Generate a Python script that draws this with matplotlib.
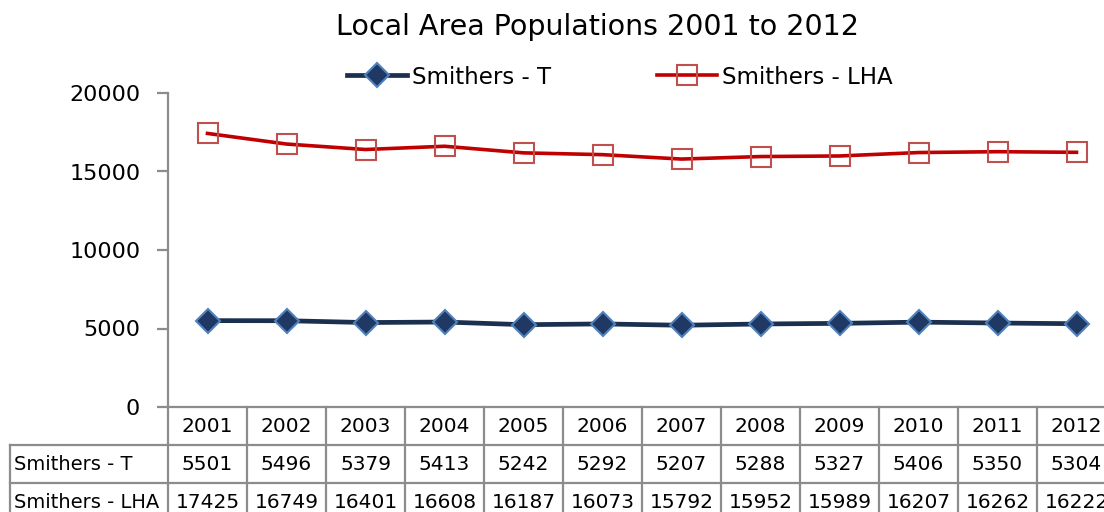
import matplotlib
matplotlib.use("Agg")
import matplotlib.pyplot as plt
from matplotlib.lines import Line2D
import matplotlib.transforms as mtransforms

years = ["2001", "2002", "2003", "2004", "2005", "2006",
         "2007", "2008", "2009", "2010", "2011", "2012"]
smithers_t = [5501, 5496, 5379, 5413, 5242, 5292, 5207, 5288, 5327, 5406, 5350, 5304]
smithers_lha = [17425, 16749, 16401, 16608, 16187, 16073, 15792, 15952, 15989, 16207, 16262, 16222]
series_names = ["Smithers - T", "Smithers - LHA"]
yticks = [0, 5000, 10000, 15000, 20000]

plt.rcParams["font.family"] = ["DejaVu Sans"]

W, H = 1104, 512
fig = plt.figure(figsize=(W / 100, H / 100), dpi=100)

# plot area: 12 category slots of 79 px starting at x=168 (runs past the right edge)
left_px, right_px = 168, 168 + 79 * 12
top_px, bottom_px = 93, 407
ax = fig.add_axes([left_px / W, 1 - bottom_px / H,
                   (right_px - left_px) / W, (bottom_px - top_px) / H])

x = list(range(len(years)))
navy = "#1B2F4F"
red = "#C00000"
grid_grey = "#8C8C8C"

t_style = dict(color=navy, lw=3.4, marker="D", ms=12,
               mfc="#1F3864", mec="#4F81BD", mew=1.5)
lha_style = dict(color=red, lw=2.6, marker="s", ms=14,
                 mfc="none", mec="#C0504D", mew=1.5)

ax.plot(x, smithers_t, zorder=3, **t_style)
ax.plot(x, smithers_lha, zorder=3, **lha_style)

ax.set_xlim(-0.5, len(years) - 0.5)
ax.set_ylim(0, 20000)
ax.set_yticks(yticks)
ax.set_yticklabels([str(v) for v in yticks], fontsize=16)
ax.set_xticks([])
for s in ["top", "right"]:
    ax.spines[s].set_visible(False)
for s in ["left", "bottom"]:
    ax.spines[s].set_color(grid_grey)
    ax.spines[s].set_linewidth(1.6)
ax.tick_params(axis="y", length=8, width=1.6, color=grid_grey, pad=12)

# data table beneath the axis
trans = mtransforms.blended_transform_factory(ax.transData, fig.transFigure)
row_h = 38 / H
y_axis = 1 - bottom_px / H
row_tops = [y_axis, y_axis - row_h, y_axis - 2 * row_h, y_axis - 3 * row_h]
lab_left = 10 / W

# vertical cell borders
for i in range(len(years) + 1):
    ax.add_line(Line2D([i - 0.5, i - 0.5], [row_tops[0], row_tops[3]],
                       transform=trans, color=grid_grey, lw=1.6, clip_on=False))
# horizontal borders of the value rows, extended under the row labels
for yy in row_tops[1:]:
    fig.add_artist(Line2D([lab_left, 1.0], [yy, yy], transform=fig.transFigure,
                          color=grid_grey, lw=1.6))
fig.add_artist(Line2D([lab_left, lab_left], [row_tops[1], row_tops[3]],
                      transform=fig.transFigure, color=grid_grey, lw=1.6))

cell_fs = 14.5
for i, yr in enumerate(years):
    ax.text(i, (row_tops[0] + row_tops[1]) / 2, yr, transform=trans,
            ha="center", va="center", fontsize=cell_fs, clip_on=False)
    ax.text(i, (row_tops[1] + row_tops[2]) / 2, str(smithers_t[i]), transform=trans,
            ha="center", va="center", fontsize=cell_fs, clip_on=False)
    ax.text(i, (row_tops[2] + row_tops[3]) / 2, str(smithers_lha[i]), transform=trans,
            ha="center", va="center", fontsize=cell_fs, clip_on=False)

for r, name in enumerate(series_names):
    fig.text(14 / W, (row_tops[r + 1] + row_tops[r + 2]) / 2, name,
             ha="left", va="center", fontsize=14)

fig.text(597 / W, 1 - 27 / H, "Local Area Populations 2001 to 2012",
         ha="center", va="center", fontsize=20.5)

handles = [Line2D([], [], **t_style), Line2D([], [], **lha_style)]
fig.legend(handles, series_names, loc="center", bbox_to_anchor=(620 / W, 1 - 77 / H),
           ncol=2, frameon=False, fontsize=16.5, handlelength=2.6,
           handletextpad=0.25, columnspacing=4.6)

fig.savefig("out.png", dpi=100)
